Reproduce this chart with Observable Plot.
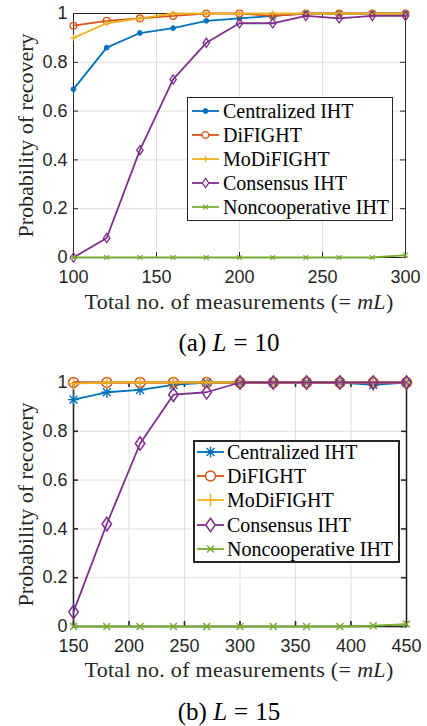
<!DOCTYPE html>
<html><head><meta charset="utf-8">
<script src="https://cdn.jsdelivr.net/npm/d3@7"></script>
<script src="https://cdn.jsdelivr.net/npm/@observablehq/plot@0.6"></script>
<style>
body{margin:0;background:#fff;width:427px;height:726px;position:relative;overflow:hidden;}
.panel{position:absolute;left:0;}
.serif{font-family:"Liberation Serif","DejaVu Serif",serif;color:#262626;}
.caption{position:absolute;font-size:25px;transform:translate(-50%,-50%);white-space:nowrap;color:#000;}
.caption .rel{margin:0 7px;}
.xlabel{position:absolute;font-size:22px;letter-spacing:0.3px;transform:translate(-50%,-50%);white-space:nowrap;}
.xlabel .rel{margin:0 6px 0 0;}
.legend{position:absolute;background:#fff;box-sizing:border-box;font-size:20px;color:#000;}
.legend .row{position:absolute;left:0;height:24px;width:100%;}
.legend .row svg{position:absolute;top:0;}
.legend .row span{position:absolute;top:0;line-height:24px;white-space:nowrap;}
</style></head><body>
<div id="pa" class="panel" style="top:0"></div>
<div class="xlabel serif" style="left:239px;top:302px">Total no. of measurements (<span class="rel">=</span><i>mL</i>)</div>
<div class="caption serif" style="left:229px;top:343px">(a) <i>L</i><span class="rel">=</span>10</div>
<div id="pb" class="panel" style="top:370px"></div>
<div class="xlabel serif" style="left:239px;top:670px">Total no. of measurements (<span class="rel">=</span><i>mL</i>)</div>
<div class="caption serif" style="left:229px;top:712px">(b) <i>L</i><span class="rel">=</span>15</div>
<script>
// ---------- data ----------
const seriesNames = ["Centralized IHT", "DiFIGHT", "MoDiFIGHT", "Consensus IHT", "Noncooperative IHT"];
const seriesColors = ["#0072BD", "#D95319", "#EDB120", "#7E2F8E", "#77AC30"];
const yTicks = [0, 0.2, 0.4, 0.6, 0.8, 1];

// (a) L = 10
const xA = [100, 120, 140, 160, 180, 200, 220, 240, 260, 280, 300];
const xTicksA = [100, 150, 200, 250, 300];
const centralA   = [0.69, 0.86, 0.92, 0.94, 0.97, 0.98, 0.99, 1.00, 1.00, 1.00, 1.00];
const difightA   = [0.95, 0.97, 0.98, 0.99, 1.00, 1.00, 0.99, 1.00, 1.00, 1.00, 1.00];
const modifightA = [0.90, 0.96, 0.98, 1.00, 1.00, 1.00, 1.00, 1.00, 1.00, 1.00, 1.00];
const consensusA = [0.00, 0.08, 0.44, 0.73, 0.88, 0.96, 0.96, 0.99, 0.98, 0.99, 0.99];
const noncoopA   = [0.00, 0.00, 0.00, 0.00, 0.00, 0.00, 0.00, 0.00, 0.00, 0.00, 0.01];

// (b) L = 15
const xB = [150, 180, 210, 240, 270, 300, 330, 360, 390, 420, 450];
const xTicksB = [150, 200, 250, 300, 350, 400, 450];
const centralB   = [0.93, 0.96, 0.97, 0.99, 1.00, 1.00, 1.00, 1.00, 1.00, 0.99, 1.00];
const difightB   = [1.00, 1.00, 1.00, 1.00, 1.00, 1.00, 1.00, 1.00, 1.00, 1.00, 1.00];
const modifightB = [0.995, 1.00, 1.00, 1.00, 1.00, 1.00, 1.00, 1.00, 1.00, 1.00, 1.00];
const consensusB = [0.06, 0.42, 0.75, 0.95, 0.96, 1.00, 1.00, 1.00, 1.00, 1.00, 1.00];
const noncoopB   = [0.00, 0.00, 0.00, 0.00, 0.00, 0.00, 0.00, 0.00, 0.00, 0.003, 0.01];

// ---------- marker shapes ----------
const rad = s => Math.sqrt(s / Math.PI);
const SYM = {
  dot: d3.symbolCircle,
  circle: d3.symbolCircle,
  plus: {draw(c, s) { const r = rad(s); c.moveTo(-r, 0); c.lineTo(r, 0); c.moveTo(0, -r); c.lineTo(0, r); }},
  times: {draw(c, s) { const r = rad(s) * 0.75; c.moveTo(-r, -r); c.lineTo(r, r); c.moveTo(-r, r); c.lineTo(r, -r); }},
  asterisk: {draw(c, s) { const r = rad(s), q = r * 0.72;
    c.moveTo(-r, 0); c.lineTo(r, 0); c.moveTo(0, -r); c.lineTo(0, r);
    c.moveTo(-q, -q); c.lineTo(q, q); c.moveTo(-q, q); c.lineTo(q, -q); }},
  diamond: {draw(c, s) { const r = rad(s), w = r * 0.7;
    c.moveTo(0, -r); c.lineTo(w, 0); c.lineTo(0, r); c.lineTo(-w, 0); c.closePath(); }}
};

const markersA = [
  {symbol: "dot", r: 2.4, fill: true, sw: 1},
  {symbol: "circle", r: 3.4, fill: false, sw: 1.3},
  {symbol: "plus", r: 3.2, fill: false, sw: 1.2},
  {symbol: "diamond", r: 4.6, fill: false, sw: 1.3},
  {symbol: "times", r: 3.2, fill: false, sw: 1.3}
];
const markersB = [
  {symbol: "asterisk", r: 5.5, fill: false, sw: 1.4},
  {symbol: "circle", r: 5.0, fill: false, sw: 1.5},
  {symbol: "plus", r: 6.0, fill: false, sw: 1.5},
  {symbol: "diamond", r: 6.8, fill: false, sw: 1.5},
  {symbol: "times", r: 4.6, fill: false, sw: 1.5}
];

function panel({xs, series, xDomain, xTicks, marginTop, marginRight, height, frameWidth, markers, lineWidth}) {
  const marginLeft = 73, marginBottom = 61;
  const innerW = 427 - marginLeft - marginRight;
  const innerH = height - marginTop - marginBottom;
  const tk = 5;
  const marks = [
    Plot.ruleX(xTicks.slice(1, -1), {stroke: "#e0e0e0", strokeWidth: 1}),
    Plot.ruleY(yTicks.slice(1, -1), {stroke: "#e0e0e0", strokeWidth: 1}),
    Plot.frame({stroke: "#262626", strokeWidth: frameWidth}),
    Plot.ruleX(xTicks, {stroke: "#262626", strokeWidth: frameWidth, insetTop: innerH - tk}),
    Plot.ruleX(xTicks, {stroke: "#262626", strokeWidth: frameWidth, insetBottom: innerH - tk}),
    Plot.ruleY(yTicks, {stroke: "#262626", strokeWidth: frameWidth, insetRight: innerW - tk}),
    Plot.ruleY(yTicks, {stroke: "#262626", strokeWidth: frameWidth, insetLeft: innerW - tk})
  ];
  series.forEach((vals, i) => {
    const data = xs.map((x, j) => ({x, y: vals[j]}));
    const m = markers[i];
    marks.push(Plot.line(data, {x: "x", y: "y", stroke: seriesColors[i], strokeWidth: lineWidth}));
    marks.push(Plot.dot(data, {x: "x", y: "y", symbol: SYM[m.symbol], r: m.r,
      stroke: seriesColors[i], fill: m.fill ? seriesColors[i] : "none", strokeWidth: m.sw}));
  });
  marks.push(Plot.text(["Probability of recovery"], {text: d => d, frameAnchor: "left", textAnchor: "middle",
    lineAnchor: "middle", rotate: -90, dx: -48,
    fontFamily: "Liberation Serif, DejaVu Serif, serif", fontSize: 22, fill: "#262626",
    letterSpacing: "0.8px"}));
  return Plot.plot({
    width: 427, height, marginLeft, marginRight, marginTop, marginBottom,
    x: {domain: xDomain, ticks: xTicks, tickSize: 0, tickPadding: 13, label: null, tickFormat: d => String(d)},
    y: {domain: [0, 1], ticks: yTicks, tickSize: 0, tickPadding: 6, label: null, tickFormat: d => String(d)},
    style: {fontFamily: "Liberation Sans, Arial, sans-serif", fontSize: "18px", color: "#262626", background: "white", overflow: "visible"},
    marks
  });
}

function legend({left, top, width, height, border, rowTop, rowStep, sampleLeft, sampleWidth, textLeft, markers}) {
  const box = document.createElement("div");
  box.className = "legend serif";
  Object.assign(box.style, {left: left + "px", top: top + "px", width: width + "px", height: height + "px",
    border: `${border}px solid #262626`});
  seriesNames.forEach((name, i) => {
    const row = document.createElement("div");
    row.className = "row";
    row.style.top = (rowTop + rowStep * i - 12) + "px";
    const svg = d3.create("svg").attr("width", sampleWidth + 10).attr("height", 24)
      .style("left", (sampleLeft - 5) + "px").style("overflow", "visible");
    svg.append("line").attr("x1", 5).attr("x2", 5 + sampleWidth).attr("y1", 12).attr("y2", 12)
      .attr("stroke", seriesColors[i]).attr("stroke-width", 1.8);
    const m = markers[i];
    svg.append("path").attr("transform", `translate(${5 + sampleWidth / 2},12)`)
      .attr("d", d3.symbol().type(SYM[m.symbol]).size(Math.PI * m.r * m.r)())
      .attr("stroke", seriesColors[i]).attr("stroke-width", m.sw)
      .attr("fill", m.fill ? seriesColors[i] : "white");
    row.appendChild(svg.node());
    const span = document.createElement("span");
    span.style.left = textLeft + "px";
    span.textContent = name;
    row.appendChild(span);
    box.appendChild(row);
  });
  document.body.appendChild(box);
}

document.getElementById("pa").appendChild(panel({
  xs: xA, series: [centralA, difightA, modifightA, consensusA, noncoopA],
  xDomain: [100, 300], xTicks: xTicksA, marginTop: 13, marginRight: 22, height: 318,
  frameWidth: 1, markers: markersA, lineWidth: 1.8
}));
document.getElementById("pb").appendChild(panel({
  xs: xB, series: [centralB, difightB, modifightB, consensusB, noncoopB],
  xDomain: [150, 450], xTicks: xTicksB, marginTop: 12, marginRight: 21, height: 317,
  frameWidth: 1.6, markers: markersB, lineWidth: 1.8
}));

legend({left: 187, top: 97, width: 206, height: 124, border: 1, rowTop: 13, rowStep: 24,
  sampleLeft: 4, sampleWidth: 27, textLeft: 35, markers: markersA});
legend({left: 193, top: 440, width: 207, height: 123, border: 2, rowTop: 10, rowStep: 24.2,
  sampleLeft: 2, sampleWidth: 27, textLeft: 32, markers: markersB});
</script>
</body></html>
